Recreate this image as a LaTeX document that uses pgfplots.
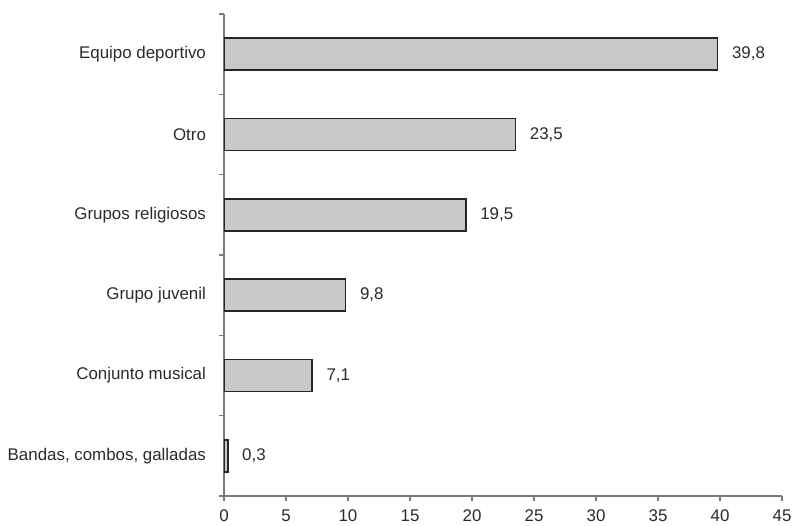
\documentclass[border=0pt]{standalone}
\usepackage{pgfplots}
\pgfplotsset{compat=1.18}
\usepackage{fontspec}
\setmainfont{Liberation Sans}
\usetikzlibrary{calc}
\definecolor{barfill}{HTML}{C8C8C8}
\definecolor{axgray}{HTML}{7A7A7A}
\definecolor{txt}{HTML}{2B2B2B}
\begin{document}
\begin{tikzpicture}
\begin{axis}[
  name=ax,
  scale only axis,
  width=279pt, height=241pt,
  xbar, bar width=16pt,
  xmin=0, xmax=45,
  ymin=-0.5, ymax=5.5,
  axis x line=bottom, axis y line=left,
  axis line style={-, draw=axgray, line width=0.6pt},
  xtick={0,5,...,45},
  ytick={0,1,2,3,4,5},
  yticklabels={{Bandas, combos, galladas}, {Conjunto musical}, {Grupo juvenil}, {Grupos religiosos}, {Otro}, {Equipo deportivo}},
  minor ytick={-0.5,0.5,1.5,2.5,3.5,4.5,5.5},
  tick align=outside,
  major tick length=2.5pt, minor tick length=2.5pt,
  major y tick style={draw=none},
  tick style={draw=axgray, line width=0.6pt},
  minor y tick style={draw=axgray, line width=0.6pt},
  font=\fontsize{8.45}{10}\selectfont,
  tick label style={text=txt},
  yticklabel style={xshift=-3pt},
  xticklabel style={yshift=-0.8pt},
  /pgf/number format/assume math mode=true,
  nodes near coords={\pgfmathprintnumber[fixed,fixed zerofill,precision=1,use comma]{\pgfplotspointmeta}},
  nodes near coords style={anchor=west, xshift=3.5pt, text=txt, font=\fontsize{8.45}{10}\selectfont},
  point meta=x,
]
\addplot[fill=barfill, draw=black!85, line width=0.85pt] coordinates {
  (0.3,0) (7.1,1) (9.8,2) (19.5,3) (23.5,4) (39.8,5)
};
\end{axis}
\pgfresetboundingbox
\path[use as bounding box] ($(ax.south west)+(-112pt,-14.5pt)$) rectangle ($(ax.south west)+(285.5pt,248pt)$);
\end{tikzpicture}
\end{document}
